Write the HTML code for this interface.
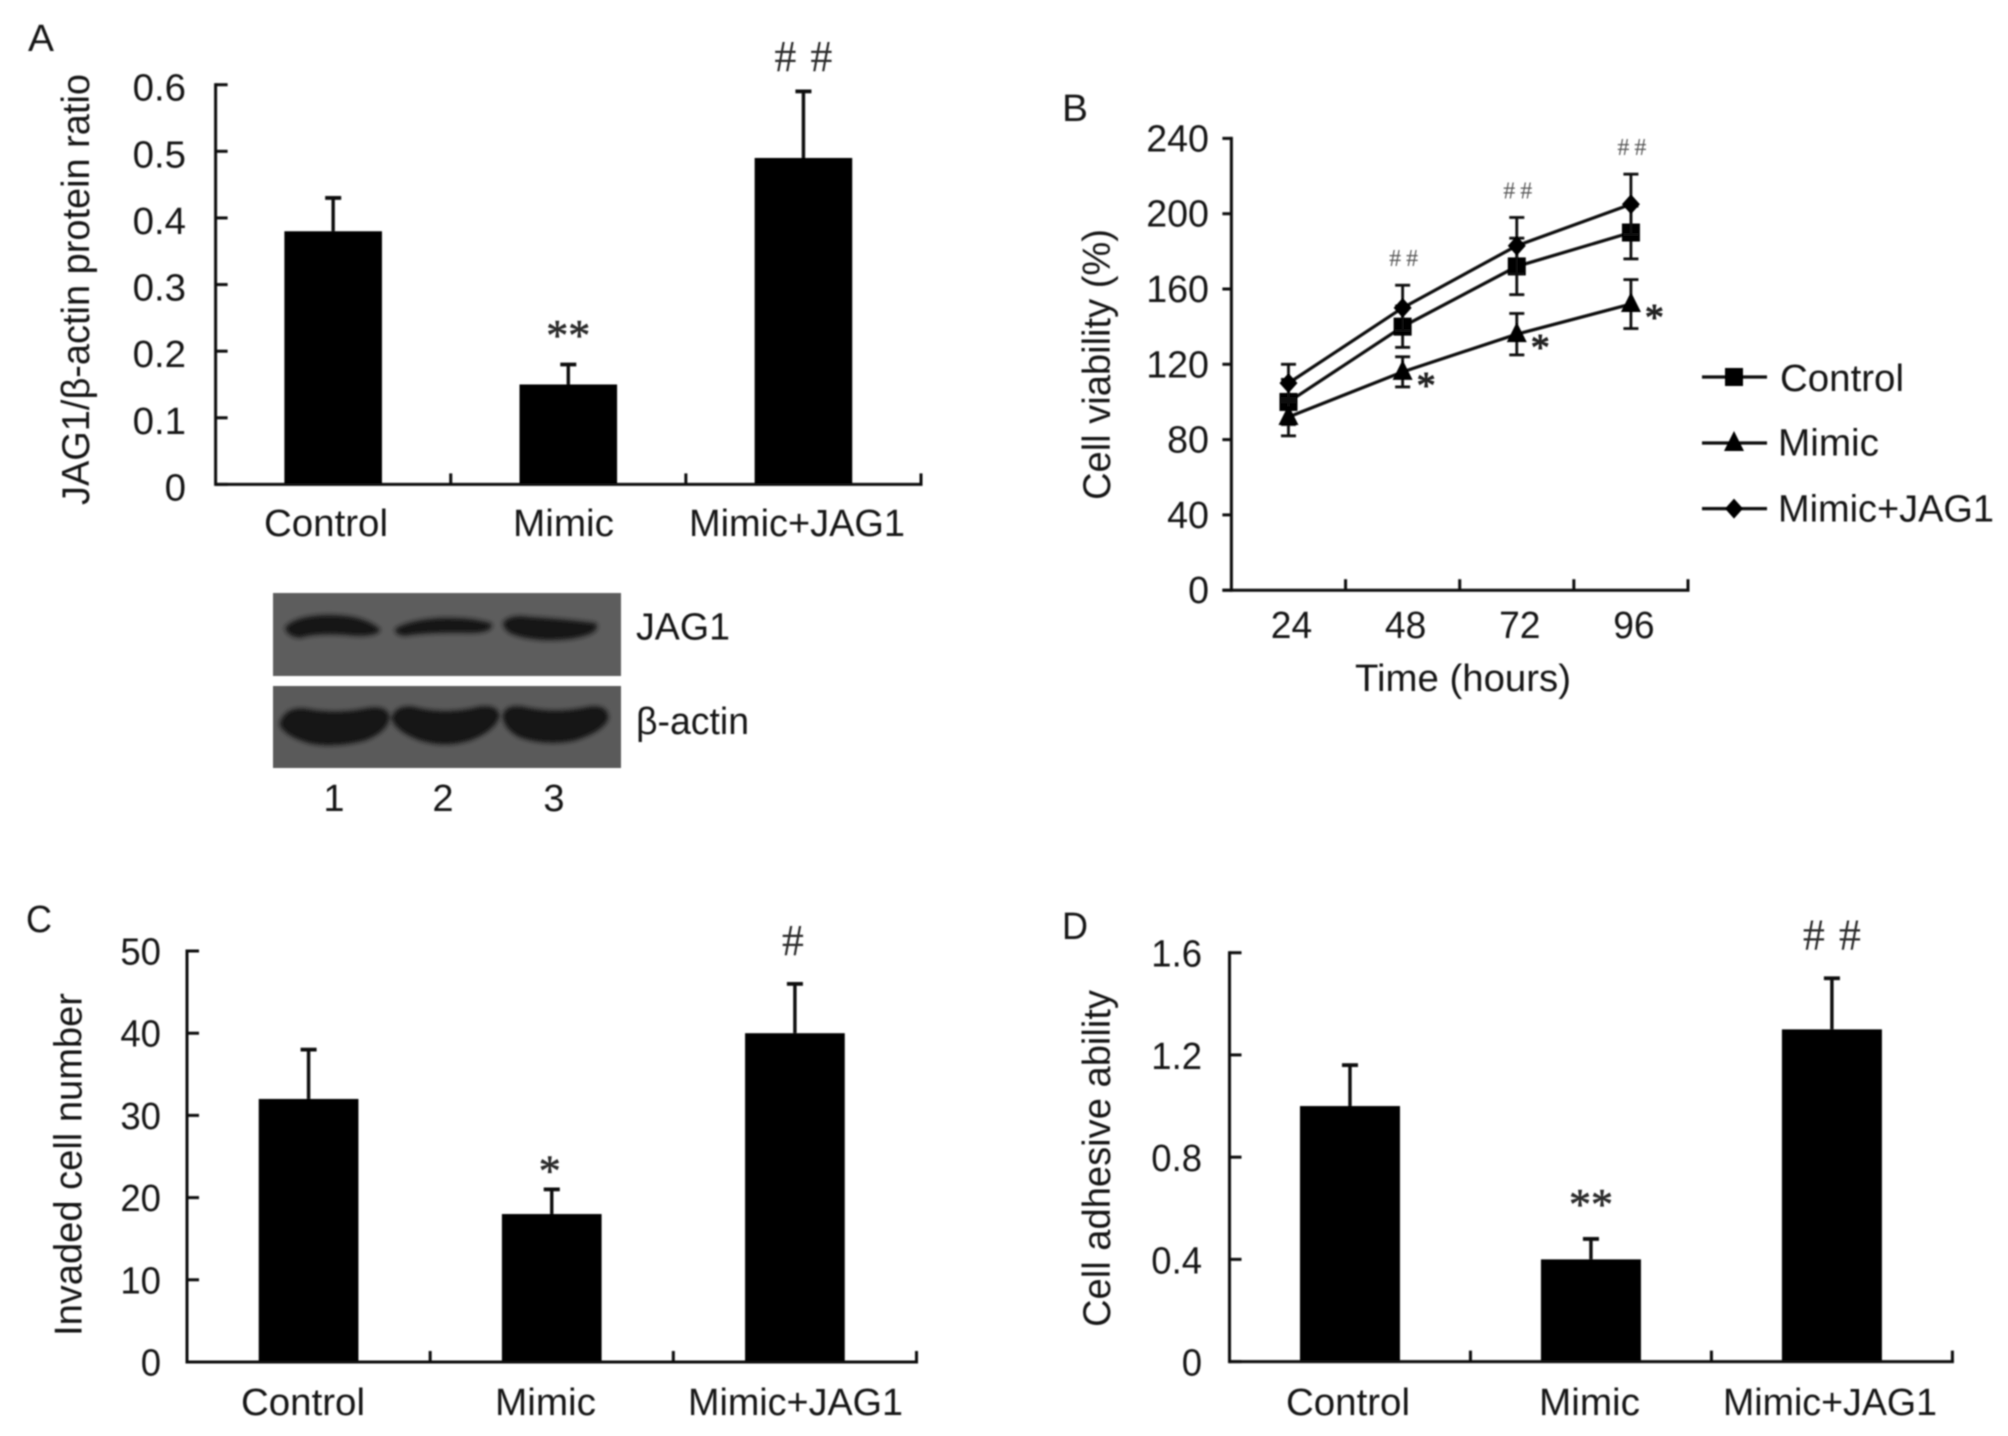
<!DOCTYPE html>
<html lang="en">
<head>
<meta charset="utf-8">
<title>JAG1 figure panels A-D</title>
<style>
html,body{margin:0;padding:0;background:#fff;width:2008px;height:1436px;overflow:hidden}
svg{display:block}
text{font-family:"Liberation Sans",Arial,sans-serif;fill:#161616}
</style>
</head>
<body>
<svg id="figure" xmlns="http://www.w3.org/2000/svg" width="2008" height="1436" viewBox="0 0 2008 1436">
  <defs>
    <filter id="soft" x="-2%" y="-2%" width="104%" height="104%"><feGaussianBlur stdDeviation="0.7"/></filter>
    <filter id="bandBlur" x="-20%" y="-40%" width="140%" height="180%"><feGaussianBlur stdDeviation="2.4"/></filter>
    <filter id="actinBlur" x="-20%" y="-40%" width="140%" height="180%"><feGaussianBlur stdDeviation="2.2"/></filter>
  </defs>
  <rect width="2008" height="1436" fill="#ffffff"/>
  <g id="root" filter="url(#soft)">
    <g>
      <rect x="273" y="593" width="348" height="83" fill="#5d5d5d"/>
      <rect x="273" y="686" width="348" height="82" fill="#5a5a5a"/>
      <g fill="#141414" stroke="#141414" stroke-width="4" stroke-linejoin="round" filter="url(#bandBlur)">
        <path d="M287 628 Q298 617 330 617 Q362 617 378 630 Q372 636 345 633 Q315 631 300 636 Q289 635 287 628Z"/>
        <path d="M397 630 Q410 622 440 620 Q470 619 490 625 Q490 631 470 631 Q430 630 405 634 Q397 633 397 630Z"/>
        <path d="M505 623 Q512 616 530 619 Q565 621 595 625 Q597 633 570 637 Q535 641 512 632 Q505 628 505 623Z"/>
      </g>
      <g fill="#141414" stroke="#141414" stroke-width="3" stroke-linejoin="round" filter="url(#actinBlur)">
        <path d="M281 724 Q286 708 305 710 Q335 716 365 710 Q385 706 388 716 Q388 730 365 739 Q335 747 310 742 Q285 735 281 724Z"/>
        <path d="M393 718 Q396 707 412 708 Q445 717 480 708 Q497 706 498 716 Q494 730 470 739 Q445 747 420 739 Q396 730 393 718Z"/>
        <path d="M504 716 Q506 706 522 708 Q555 716 590 708 Q607 706 607 718 Q603 730 575 739 Q545 745 520 736 Q505 728 504 716Z"/>
      </g>
    </g>
  </g>
</svg>
<script>
// Panel A data
const barCategories = ['Control', 'Mimic', 'Mimic+JAG1'];
const panelAValues = [0.38, 0.15, 0.49];
const panelAErrors = [0.05, 0.03, 0.10];
const panelATicks = [0, 0.1, 0.2, 0.3, 0.4, 0.5, 0.6];
const panelATickLabels = ['0', '0.1', '0.2', '0.3', '0.4', '0.5', '0.6'];
const panelAMarks = ['', '**', '##'];
// Panel C data
const panelCValues = [32, 18, 40];
const panelCErrors = [6, 3, 6];
const panelCTicks = [0, 10, 20, 30, 40, 50];
const panelCTickLabels = ['0', '10', '20', '30', '40', '50'];
const panelCMarks = ['', '*', '#'];
// Panel D data
const panelDValues = [1.0, 0.4, 1.3];
const panelDErrors = [0.16, 0.08, 0.2];
const panelDTicks = [0, 0.4, 0.8, 1.2, 1.6];
const panelDTickLabels = ['0', '0.4', '0.8', '1.2', '1.6'];
const panelDMarks = ['', '**', '##'];
// Panel B data
const timeLabels = ['24', '48', '72', '96'];
const controlValues = [100, 140, 172, 190];
const controlErrors = [12, 11, 15, 14];
const mimicValues = [92, 116, 136, 152];
const mimicErrors = [10, 8, 11, 13];
const jagValues = [110, 150, 183, 205];
const jagErrors = [10, 12, 15, 16];
const panelBTicks = [0, 40, 80, 120, 160, 200, 240];
const panelBTickLabels = ['0', '40', '80', '120', '160', '200', '240'];
const hashMarks = ['', '##', '##', '##'];
const starMarks = ['', '*', '*', '*'];

const NS = 'http://www.w3.org/2000/svg';
const root = document.getElementById('root');
const INK = '#0c0c0c';
const AXIS_W = 3;

function make(parent, tag, name, attrs) {
  const el = document.createElementNS(NS, tag);
  
  
  for (const k in attrs) el.setAttribute(k, attrs[k]);
  parent.appendChild(el);
  return el;
}
function seg(parent, name, x1, y1, x2, y2, w) {
  return make(parent, 'line', name, {x1: x1, y1: y1, x2: x2, y2: y2, stroke: INK, 'stroke-width': w || AXIS_W, 'stroke-linecap': 'butt'});
}
function label(parent, name, str, x, y, o) {
  o = o || {};
  const t = make(parent, 'text', name, {x: x, y: y, 'font-size': o.size || 38, 'text-anchor': o.anchor || 'start'});
  t.textContent = str;
  if (o.serif) t.style.fontFamily = '"Liberation Serif","Times New Roman",serif';
  if (o.fill) t.style.fill = o.fill;
  if (o.heavy) {
    t.style.stroke = o.fill || '#161616';
    t.style.strokeWidth = o.heavy;
  }
  if (o.spacing) t.setAttribute('letter-spacing', o.spacing);
  if (o.width) {
    t.setAttribute('textLength', o.width);
    t.setAttribute('lengthAdjust', 'spacingAndGlyphs');
  } else if (o.sx) {
    t.setAttribute('textLength', (t.getComputedTextLength() * o.sx).toFixed(1));
    t.setAttribute('lengthAdjust', 'spacingAndGlyphs');
  }
  if (o.rotate) t.setAttribute('transform', 'rotate(' + o.rotate + ' ' + x + ' ' + y + ')');
  return t;
}

function barPanel(cfg) {
  const g = make(root, 'g', cfg.name, {});
  const n = cfg.values.length;
  const band = (cfg.right - cfg.left) / n;
  const sy = v => cfg.bottom - (v / cfg.max) * (cfg.bottom - cfg.top);
  const cx = i => cfg.left + band * (i + 0.5);

  label(g, 'panel-letter', cfg.letter, cfg.letterX, cfg.letterY, {size: 38, width: 26});
  label(g, 'y-axis-title', cfg.title, cfg.titleX, cfg.titleY, {size: 39, width: cfg.titleLen, rotate: -90});

  cfg.values.forEach((v, i) => {
    const c = cx(i), w = band * cfg.barRatio;
    make(g, 'rect', 'bar-' + barCategories[i].toLowerCase().replace('+', '-'), {x: c - w / 2, y: sy(v), width: w, height: cfg.bottom - sy(v), fill: '#000000'});
    const topY = sy(v + cfg.errors[i]);
    seg(g, 'error-bar-stem', c, sy(v), c, topY, 3.4);
    seg(g, 'error-bar-cap', c - 8, topY, c + 8, topY, 3.8);
    if (cfg.marks[i]) {
      const isHash = cfg.marks[i][0] === '#';
      const sp = isHash && cfg.marks[i].length > 1 ? cfg.hashGap : 0;
      label(g, isHash ? 'significance-hash' : 'significance-star', cfg.marks[i], c + sp / 2 + cfg.markDx, topY - (isHash ? cfg.hashOffset : cfg.starOffset), {size: 44, anchor: 'middle', serif: true, spacing: sp || null, fill: '#2a2a2a', heavy: isHash ? 0 : 0.6});
    }
    label(g, 'x-tick-label', barCategories[i], cfg.catX[i], cfg.catY, {size: 38, width: cfg.catW[i]});
  });

  seg(g, 'y-axis-line', cfg.left, cfg.top - 1.5, cfg.left, cfg.bottom + 1.5);
  seg(g, 'x-axis-line', cfg.left, cfg.bottom, cfg.right + 1.5, cfg.bottom);
  cfg.ticks.forEach((t, i) => {
    seg(g, 'y-tick', cfg.left, sy(t), cfg.left + 12, sy(t));
    label(g, 'y-tick-label', cfg.tickLabels[i], cfg.tickRight, sy(t) + cfg.tickDy, {size: 38, anchor: 'end', sx: cfg.tickSx});
  });
  for (let i = 1; i <= n; i++) {
    seg(g, 'x-tick', cfg.left + band * i, cfg.bottom, cfg.left + band * i, cfg.bottom - 11);
  }
}

barPanel({name: 'panel-a-bar-chart', letter: 'A', letterX: 28, letterY: 51,
  title: 'JAG1/β-actin protein ratio', titleX: 89, titleY: 505, titleLen: 431,
  values: panelAValues, errors: panelAErrors, marks: panelAMarks, ticks: panelATicks, tickLabels: panelATickLabels,
  left: 215.6, right: 921, top: 84.7, bottom: 484.4, max: 0.6, barRatio: 0.415, tickRight: 186, tickDy: 16, tickSx: 1.01,
  catX: [264, 513, 689], catY: 536, catW: [124, 101, 216], hashOffset: 20.5, starOffset: 14.7, hashGap: 14, markDx: 0});

barPanel({name: 'panel-c-bar-chart', letter: 'C', letterX: 26, letterY: 932,
  title: 'Invaded cell number', titleX: 81.6, titleY: 1336, titleLen: 343,
  values: panelCValues, errors: panelCErrors, marks: panelCMarks, ticks: panelCTicks, tickLabels: panelCTickLabels,
  left: 187, right: 916.5, top: 951, bottom: 1362, max: 50, barRatio: 0.41, tickRight: 161, tickDy: 13.5, tickSx: 0.96,
  catX: [241, 495, 688], catY: 1415, catW: [124, 101, 215], hashOffset: 29, starOffset: 4, hashGap: 0, markDx: -2});

barPanel({name: 'panel-d-bar-chart', letter: 'D', letterX: 1062, letterY: 939,
  title: 'Cell adhesive ability', titleX: 1110, titleY: 1327, titleLen: 337,
  values: panelDValues, errors: panelDErrors, marks: panelDMarks, ticks: panelDTicks, tickLabels: panelDTickLabels,
  left: 1229.5, right: 1952.4, top: 952.7, bottom: 1361.6, max: 1.6, barRatio: 0.415, tickRight: 1202, tickDy: 14, tickSx: 0.96,
  catX: [1286, 1539, 1723], catY: 1415, catW: [124, 101, 214], hashOffset: 29, starOffset: 20, hashGap: 14, markDx: 0});

// Panel B line chart
(function () {
  const g = make(root, 'g', 'panel-b-line-chart', {});
  const left = 1231.4, right = 1688, top = 138.4, bottom = 590.2, max = 240;
  const band = (right - left) / timeLabels.length;
  const sx = i => left + band * (i + 0.5);
  const sy = v => bottom - (v / max) * (bottom - top);

  function marker(parent, kind, x, y) {
    if (kind === 'square') make(parent, 'rect', 'marker-square', {x: x - 9, y: y - 9, width: 18, height: 18, fill: '#000'});
    if (kind === 'triangle') make(parent, 'polygon', 'marker-triangle', {points: (x) + ',' + (y - 12) + ' ' + (x + 10) + ',' + (y + 8) + ' ' + (x - 10) + ',' + (y + 8), fill: '#000'});
    if (kind === 'diamond') make(parent, 'polygon', 'marker-diamond', {points: x + ',' + (y - 10) + ' ' + (x + 9) + ',' + y + ' ' + x + ',' + (y + 10) + ' ' + (x - 9) + ',' + y, fill: '#000'});
  }

  label(g, 'panel-letter', 'B', 1062, 121, {size: 38, width: 26});
  label(g, 'y-axis-title', 'Cell viability (%)', 1110, 500, {size: 39, width: 271, rotate: -90});

  seg(g, 'y-axis-line', left, top - 1.5, left, bottom + 1.5);
  seg(g, 'x-axis-line', left - 9, bottom, right + 1.5, bottom);
  panelBTicks.forEach((t, i) => {
    seg(g, 'y-tick', left - 9, sy(t), left, sy(t));
    label(g, 'y-tick-label', panelBTickLabels[i], 1209, sy(t) + 13, {size: 38, anchor: 'end', sx: 0.99});
  });
  timeLabels.forEach((lab, i) => {
    seg(g, 'x-tick', left + band * (i + 1), bottom, left + band * (i + 1), bottom - 11);
    label(g, 'x-tick-label', lab, sx(i) + 3, 638, {size: 38, anchor: 'middle', sx: 0.98});
  });
  label(g, 'x-axis-title', 'Time (hours)', 1355, 691, {size: 38, width: 216});

  const series = [
    {name: 'control', kind: 'square', values: controlValues, errors: controlErrors},
    {name: 'mimic', kind: 'triangle', values: mimicValues, errors: mimicErrors},
    {name: 'mimic-jag1', kind: 'diamond', values: jagValues, errors: jagErrors}
  ];
  series.forEach(s => {
    const sg = make(g, 'g', 'series-' + s.name, {});
    s.values.forEach((v, i) => {
      const x = sx(i);
      seg(sg, 'error-bar-stem', x, sy(v + s.errors[i]), x, sy(v - s.errors[i]), 2.8);
      seg(sg, 'error-bar-cap', x - 7.5, sy(v + s.errors[i]), x + 7.5, sy(v + s.errors[i]), 2.8);
      seg(sg, 'error-bar-cap', x - 7.5, sy(v - s.errors[i]), x + 7.5, sy(v - s.errors[i]), 2.8);
    });
    const pts = s.values.map((v, i) => sx(i) + ',' + sy(v)).join(' ');
    make(sg, 'polyline', 'line-' + s.name, {points: pts, fill: 'none', stroke: INK, 'stroke-width': 3.2});
    s.values.forEach((v, i) => marker(sg, s.kind, sx(i), sy(v)));
  });

  hashMarks.forEach((m, i) => {
    if (!m) return;
    const yTop = sy(jagValues[i] + jagErrors[i]);
    label(g, 'significance-hash', m, sx(i) + 3.5, yTop - 19, {size: 24, anchor: 'middle', serif: true, spacing: 5, fill: '#555555'});
  });
  starMarks.forEach((m, i) => {
    if (!m) return;
    label(g, 'significance-star', m, sx(i) + 23.5, sy(mimicValues[i]) + 26, {size: 38, anchor: 'middle', serif: true, fill: '#222222', heavy: 1});
  });

  const legend = make(g, 'g', 'legend', {});
  const entries = [
    {kind: 'square', text: 'Control', y: 377, tx: 1780, ty: 391, w: 124},
    {kind: 'triangle', text: 'Mimic', y: 443, tx: 1778, ty: 455.5, w: 101},
    {kind: 'diamond', text: 'Mimic+JAG1', y: 508.6, tx: 1778, ty: 521.6, w: 216}
  ];
  entries.forEach(e => {
    const eg = make(legend, 'g', 'legend-entry', {});
    seg(eg, 'legend-line', 1702, e.y, 1767, e.y, 3.2);
    marker(eg, e.kind, 1734, e.y);
    label(eg, 'legend-label', e.text, e.tx, e.ty, {size: 38, width: e.w});
  });
})();

// Western blot labels
const blotLabels = make(root, 'g', 'western-blot-labels', {});
label(blotLabels, 'jag1-label', 'JAG1', 636, 639.5, {size: 38, width: 94});
label(blotLabels, 'actin-label', 'β-actin', 636, 734, {size: 38, width: 113});
label(blotLabels, 'lane-label', '1', 334, 811, {size: 38, anchor: 'middle'});
label(blotLabels, 'lane-label', '2', 443, 811, {size: 38, anchor: 'middle'});
label(blotLabels, 'lane-label', '3', 554, 811, {size: 38, anchor: 'middle'});
</script>
</body>
</html>
